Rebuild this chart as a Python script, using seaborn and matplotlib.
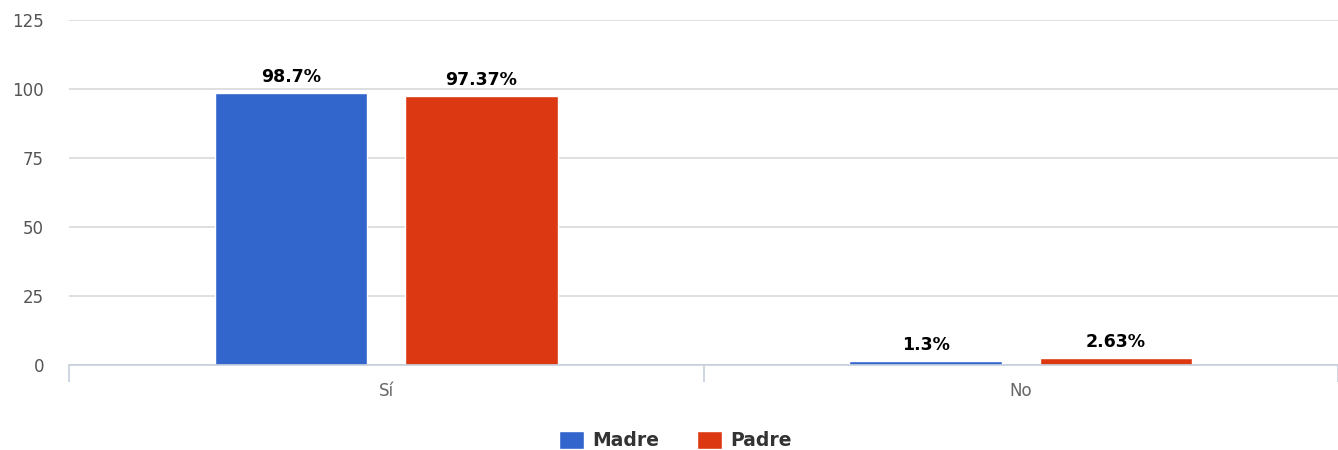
import seaborn as sns
from matplotlib import pyplot as plt
from matplotlib.patches import Patch
import pandas as pd

categories = ["Sí", "No"]
madre = [98.7, 1.3]
padre = [97.37, 2.63]
labels_madre = ["98.7%", "1.3%"]
labels_padre = ["97.37%", "2.63%"]
series = ["Madre", "Padre"]
colors = ["#3366CC", "#DC3912"]

df = pd.DataFrame({
    "categoria": categories * 2,
    "valor": madre + padre,
    "serie": ["Madre"] * 2 + ["Padre"] * 2,
})

sns.set_style("white")
plt.rcParams["font.family"] = ["DejaVu Sans"]
fig = plt.figure(figsize=(13.38, 4.5), dpi=100)
ax = fig.add_axes([0.0516, 0.189, 0.9484, 0.7666])

sns.barplot(
    data=df, x="categoria", y="valor", hue="serie",
    palette=colors, saturation=1, width=0.6, gap=0.2, ax=ax,
    edgecolor="white", linewidth=1, legend=False,
)

for container, labels in zip(ax.containers, [labels_madre, labels_padre]):
    ax.bar_label(container, labels=labels, padding=5,
                 fontsize=12.5, fontweight="bold", color="black")

ax.set_ylim(0, 125)
ax.set_yticks([0, 25, 50, 75, 100, 125])
ax.set_xlim(-0.5, 1.5)
ax.grid(axis="y", color="#d9d9d9", linewidth=1.2)
ax.set_axisbelow(True)
for s in ["top", "right", "left"]:
    ax.spines[s].set_visible(False)
ax.spines["bottom"].set_color("#c5cfdd")
ax.spines["bottom"].set_linewidth(1.2)

ax.tick_params(axis="y", length=0, labelsize=12, labelcolor="#555555", pad=18)
ax.tick_params(axis="x", which="major", length=0, labelsize=12,
               labelcolor="#666666", pad=12)
ax.set_xticks([-0.5, 0.5, 1.5], minor=True)
ax.tick_params(axis="x", which="minor", bottom=True, length=12,
               color="#c5cfdd", width=1.2)
ax.set_xlabel("")
ax.set_ylabel("")

handles = [Patch(facecolor=c, label=l) for c, l in zip(colors, series)]
leg = fig.legend(handles=handles, loc="lower center", ncol=2, frameon=False,
                 bbox_to_anchor=(0.505, -0.038), handlelength=1.33, handleheight=1.07,
                 columnspacing=2.0, handletextpad=0.45,
                 prop={"weight": "bold", "size": 13.5})
for t in leg.get_texts():
    t.set_color("#333333")

fig.savefig("out.png", dpi=100)
